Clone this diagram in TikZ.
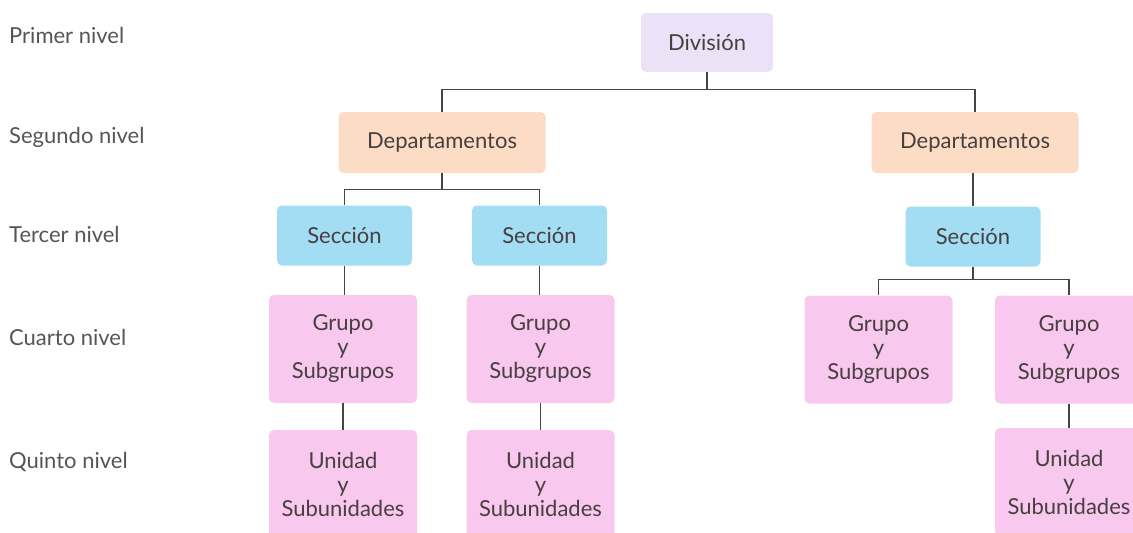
\documentclass[tikz,border=0pt]{standalone}
\usepackage{fontspec}
\setmainfont{Lato}
\definecolor{divc}{HTML}{EBE2F8}
\definecolor{depc}{HTML}{FCDCC4}
\definecolor{secc}{HTML}{A3DDF3}
\definecolor{grpc}{HTML}{F8C8EE}
\definecolor{txtc}{HTML}{483F40}
\definecolor{lblc}{HTML}{555555}
\definecolor{linec}{HTML}{454545}
\begin{document}
\begin{tikzpicture}[x=1pt,y=-1pt,
  box/.style={rounded corners=5pt, inner sep=0pt, align=center, text=txtc,
    font=\fontsize{22}{24}\selectfont},
  divbox/.style={box, fill=divc, minimum width=132pt, minimum height=59pt},
  depbox/.style={box, fill=depc, minimum width=207pt, minimum height=61pt},
  secbox/.style={box, fill=secc, minimum width=135pt, minimum height=60pt},
  grpbox/.style={box, fill=grpc, minimum width=148pt, minimum height=108pt},
  lvl/.style={anchor=west, text=lblc, inner sep=0pt, font=\fontsize{22}{24}\selectfont},
  conn/.style={draw=linec, line width=1.4pt}]
\useasboundingbox (0,0) rectangle (1133,533);
% level labels
\node[lvl] (l1) at (9,35) {Primer nivel};
\node[lvl] (l2) at (9,137) {Segundo nivel};
\node[lvl] (l3) at (9,234) {Tercer nivel};
\node[lvl] (l4) at (9,337) {Cuarto nivel};
\node[lvl] (l5) at (9,462) {Quinto nivel};
% boxes
\node[divbox] (div) at (707,42.5) {División};
\node[depbox] (depL) at (442,142.5) {Departamentos};
\node[depbox] (depR) at (975,142.5) {Departamentos};
\node[secbox] (secL) at (344.5,235.5) {Sección};
\node[secbox] (secM) at (539.5,235.5) {Sección};
\node[secbox] (secR) at (973,236.5) {Sección};
\node[grpbox] (grL) at (343,349) {Grupo\\y\\Subgrupos};
\node[grpbox] (grM) at (540.5,349) {Grupo\\y\\Subgrupos};
\node[grpbox] (grR1) at (878.5,349.5) {Grupo\\y\\Subgrupos};
\node[grpbox] (grR2) at (1069,349.5) {Grupo\\y\\Subgrupos};
\node[grpbox] (unL) at (343,484) {Unidad\\y\\Subunidades};
\node[grpbox] (unM) at (540.5,484) {Unidad\\y\\Subunidades};
\node[grpbox] (unR) at (1069,482) {Unidad\\y\\Subunidades};
% connectors
\draw[conn] (div.south) -- ++(0,17) coordinate (b1);
\draw[conn] (depL.north) |- (b1) -| (depR.north);
\draw[conn] (depL.south) -- ++(0,16) coordinate (b2);
\draw[conn] (secL.north) |- (b2) -| (secM.north);
\draw[conn] (secR.north) -- (secR.north |- depR.south);
\draw[conn] (secR.south) -- ++(0,13) coordinate (b3);
\draw[conn] (grR1.north) |- (b3) -| (grR2.north);
\draw[conn] (secL.south) -- (secL.south |- grL.north);
\draw[conn] (secM.south) -- (secM.south |- grM.north);
\draw[conn] (grL.south) -- (grL.south |- unL.north);
\draw[conn] (grM.south) -- (grM.south |- unM.north);
\draw[conn] (grR2.south) -- (grR2.south |- unR.north);
\end{tikzpicture}
\end{document}
